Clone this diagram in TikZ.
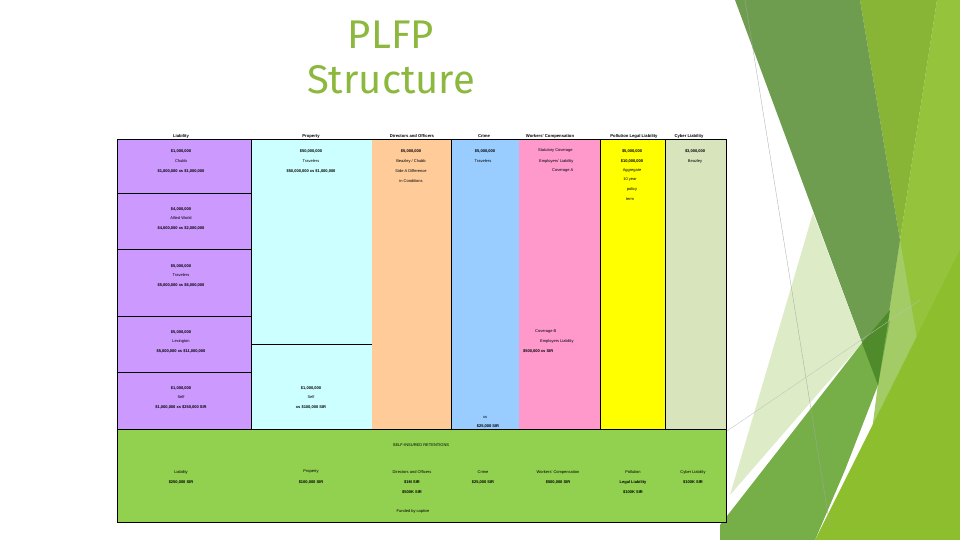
\documentclass[tikz,border=0pt]{standalone}
\usepackage{fontspec}
\setmainfont{Liberation Sans}
\newfontfamily\titlefont{Fira Sans}
\definecolor{titlegreen}{HTML}{8CB83E}
\definecolor{cpurple}{HTML}{CC99FF}
\definecolor{ccyan}{HTML}{CCFFFF}
\definecolor{corange}{HTML}{FFCC99}
\definecolor{cblue}{HTML}{99CCFF}
\definecolor{cpink}{HTML}{FF99CC}
\definecolor{cyellow}{HTML}{FFFF00}
\definecolor{csage}{HTML}{D8E4BC}
\definecolor{cgreen}{HTML}{92D050}
\definecolor{bgA}{HTML}{6E9D4F}
\definecolor{bgB}{HTML}{88B535}
\definecolor{bgC}{HTML}{95C33C}
\definecolor{bgD}{HTML}{DDEBC6}
\definecolor{bgE}{HTML}{76AF48}
\definecolor{bgF}{HTML}{8DBE2E}
\definecolor{bgG}{HTML}{4F8B2B}
\definecolor{bgH}{HTML}{A4CC66}
\begin{document}
\begin{tikzpicture}[x=1pt,y=-1pt,
  tx/.style={font=\fontsize{4}{5}\selectfont, inner sep=0pt},
  tb/.style={font=\fontsize{4}{5}\selectfont\bfseries, inner sep=0pt},
  hd/.style={font=\fontsize{4.2}{5}\selectfont\bfseries, inner sep=0pt, anchor=base},
  ttl/.style={font=\titlefont\fontsize{40}{44}\selectfont, text=titlegreen, inner sep=0pt},
  grid/.style={draw=black, line width=0.7pt}]
\useasboundingbox (0,0) rectangle (960,540);
\fill[white] (0,0) rectangle (960,540);
% background facets
\fill[bgC] (937,0) -- (960,0) -- (960,540) -- (860,540) -- (878,385) -- (900,240) -- cycle;
\fill[bgB] (860,0) -- (937,0) -- (900,240) -- cycle;
\fill[bgH] (900,240) -- (918,345) -- (872,430) -- (878,385) -- cycle;
\fill[bgF] (815,540) -- (960,250) -- (960,540) -- cycle;
\fill[bgA] (735,0) -- (860,0) -- (900,240) -- (878,385) -- (862,343) -- cycle;
\fill[bgD] (730,495) -- (813,213) -- (862,343) -- cycle;
\fill[bgE] (720,525) -- (862,343) -- (890,320) -- (878,385) -- (845,470) -- (815,540) -- (720,540) -- cycle;
\fill[bgG] (862,343) -- (890,310) -- (878,385) -- cycle;
\draw[gray!70, line width=0.3pt] (745,0) -- (830,527);
\draw[gray!50, line width=0.3pt] (727,431) -- (920,300);
% title
\node[ttl] (t1) at (391,35) {PLFP};
\node[ttl] (t2) at (391,80) {Structure};
% columns
\fill[cpurple] (117,139) rectangle (251,429);
\fill[ccyan] (251,139) rectangle (372,429);
\fill[corange] (372,139) rectangle (451,429);
\fill[cblue] (451,139) rectangle (519,429);
\fill[cpink] (519,139) rectangle (600,429);
\fill[cyellow] (600,139) rectangle (665,429);
\fill[csage] (665,139) rectangle (726,429);
\fill[cgreen] (117,429) rectangle (726,522);
% grid lines
\draw[grid] (117,139) rectangle (726,522);
\draw[grid] (117,429) -- (726,429);
\draw[grid] (251,139) -- (251,429);
\draw[grid] (451,139) -- (451,429);
\draw[grid] (600,139) -- (600,429);
\draw[grid] (665,139) -- (665,429);
\draw[grid] (117,193) -- (251,193);
\draw[grid] (117,249) -- (251,249);
\draw[grid] (117,316) -- (251,316);
\draw[grid] (117,372) -- (251,372);
\draw[grid] (251,344) -- (372,344);
% headers
\node[hd] (h1) at (181,137.5) {Liability};
\node[hd] (h2) at (311,137.5) {Property};
\node[hd] (h3) at (412,137.5) {Directors and Officers};
\node[hd] (h4) at (484,137.5) {Crime};
\node[hd] (h5) at (550,137.5) {Workers' Compensation};
\node[hd] (h6) at (634,137.5) {Pollution Legal Liability};
\node[hd] (h7) at (689,137.5) {Cyber Liability};
% purple cells
\node[tb] (p1a) at (181,151) {\$1,000,000};
\node[tx] (p1b) at (181,161) {Chubb};
\node[tb] (p1c) at (181,171) {\$1,000,000 xs \$1,000,000};
\node[tb] (p2a) at (181,209) {\$4,000,000};
\node[tx] (p2b) at (181,218) {Allied World};
\node[tb] (p2c) at (181,228) {\$4,000,000 xs \$2,000,000};
\node[tb] (p3a) at (181,266) {\$5,000,000};
\node[tx] (p3b) at (181,275) {Travelers};
\node[tb] (p3c) at (181,285) {\$5,000,000 xs \$6,000,000};
\node[tb] (p4a) at (181,332) {\$5,000,000};
\node[tx] (p4b) at (181,341) {Lexington};
\node[tb] (p4c) at (181,351) {\$5,000,000 xs \$11,000,000};
\node[tb] (p5a) at (181,388) {\$1,000,000};
\node[tx] (p5b) at (181,397) {Self};
\node[tb] (p5c) at (181,407) {\$1,000,000 xs \$250,000 SIR};
% cyan cells
\node[tb] (c1a) at (311,151) {\$50,000,000};
\node[tx] (c1b) at (311,161) {Travelers};
\node[tb] (c1c) at (311,171) {\$50,000,000 xs \$1,000,000};
\node[tb] (c2a) at (311,388) {\$1,000,000};
\node[tx] (c2b) at (311,397) {Self};
\node[tb] (c2c) at (311,407) {xs \$100,000 SIR};
% orange
\node[tb] (o1) at (411,151) {\$5,000,000};
\node[tx] (o2) at (411,161) {Beazley / Chubb};
\node[tx] (o3) at (411,171) {Side A Difference};
\node[tx] (o4) at (411,181) {in Conditions};
% blue
\node[tb] (b1) at (485,151) {\$5,000,000};
\node[tx] (b2) at (483,161) {Travelers};
\node[tx] (b3) at (485,417) {xs};
\node[tb] (b4) at (488,426) {\$25,000 SIR};
% pink
\node[tx, anchor=west] (k1) at (538,151) {Statutory Coverage};
\node[tx, anchor=west] (k2) at (539,161) {Employers' Liability};
\node[tx, anchor=west] (k3) at (552,171) {Coverage A};
\node[tx, anchor=west] (k4) at (535,332) {Coverage B};
\node[tx, anchor=west] (k5) at (540,341) {Employers Liability};
\node[tb, anchor=west] (k6) at (523,351) {\$500,000 xs SIR};
% yellow
\node[tb] (y1) at (632,151) {\$5,000,000};
\node[tb] (y2) at (632,161) {\$10,000,000};
\node[tx] (y3) at (632,171) {Aggregate};
\node[tx] (y4) at (630,180) {10 year};
\node[tx] (y5) at (632,189) {policy};
\node[tx] (y6) at (630,199) {term};
% sage
\node[tb] (s1) at (695,151) {\$3,000,000};
\node[tx] (s2) at (695,161) {Beazley};
% green box
\node[tx] (g0) at (421,445) {SELF-INSURED RETENTIONS};
\node[tx] (g1a) at (181,472) {Liability};
\node[tb] (g1b) at (181,482) {\$250,000 SIR};
\node[tx] (g2a) at (311,472) {Property};
\node[tb] (g2b) at (311,482) {\$100,000 SIR};
\node[tx] (g3a) at (412,472) {Directors and Officers};
\node[tb] (g3b) at (412,482) {\$1M SIR};
\node[tb] (g3c) at (412,492) {\$500K SIR};
\node[tx] (g4a) at (483,472) {Crime};
\node[tb] (g4b) at (483,482) {\$25,000 SIR};
\node[tx] (g5a) at (558,472) {Workers' Compensation};
\node[tb] (g5b) at (558,482) {\$500,000 SIR};
\node[tx] (g6a) at (633,472) {Pollution};
\node[tb] (g6b) at (633,482) {Legal Liability};
\node[tb] (g6c) at (633,492) {\$100K SIR};
\node[tx] (g7a) at (693,472) {Cyber Liability};
\node[tb] (g7b) at (693,482) {\$100K SIR};
\node[tx] (g8) at (413,511) {Funded by captive};
\end{tikzpicture}
\end{document}
